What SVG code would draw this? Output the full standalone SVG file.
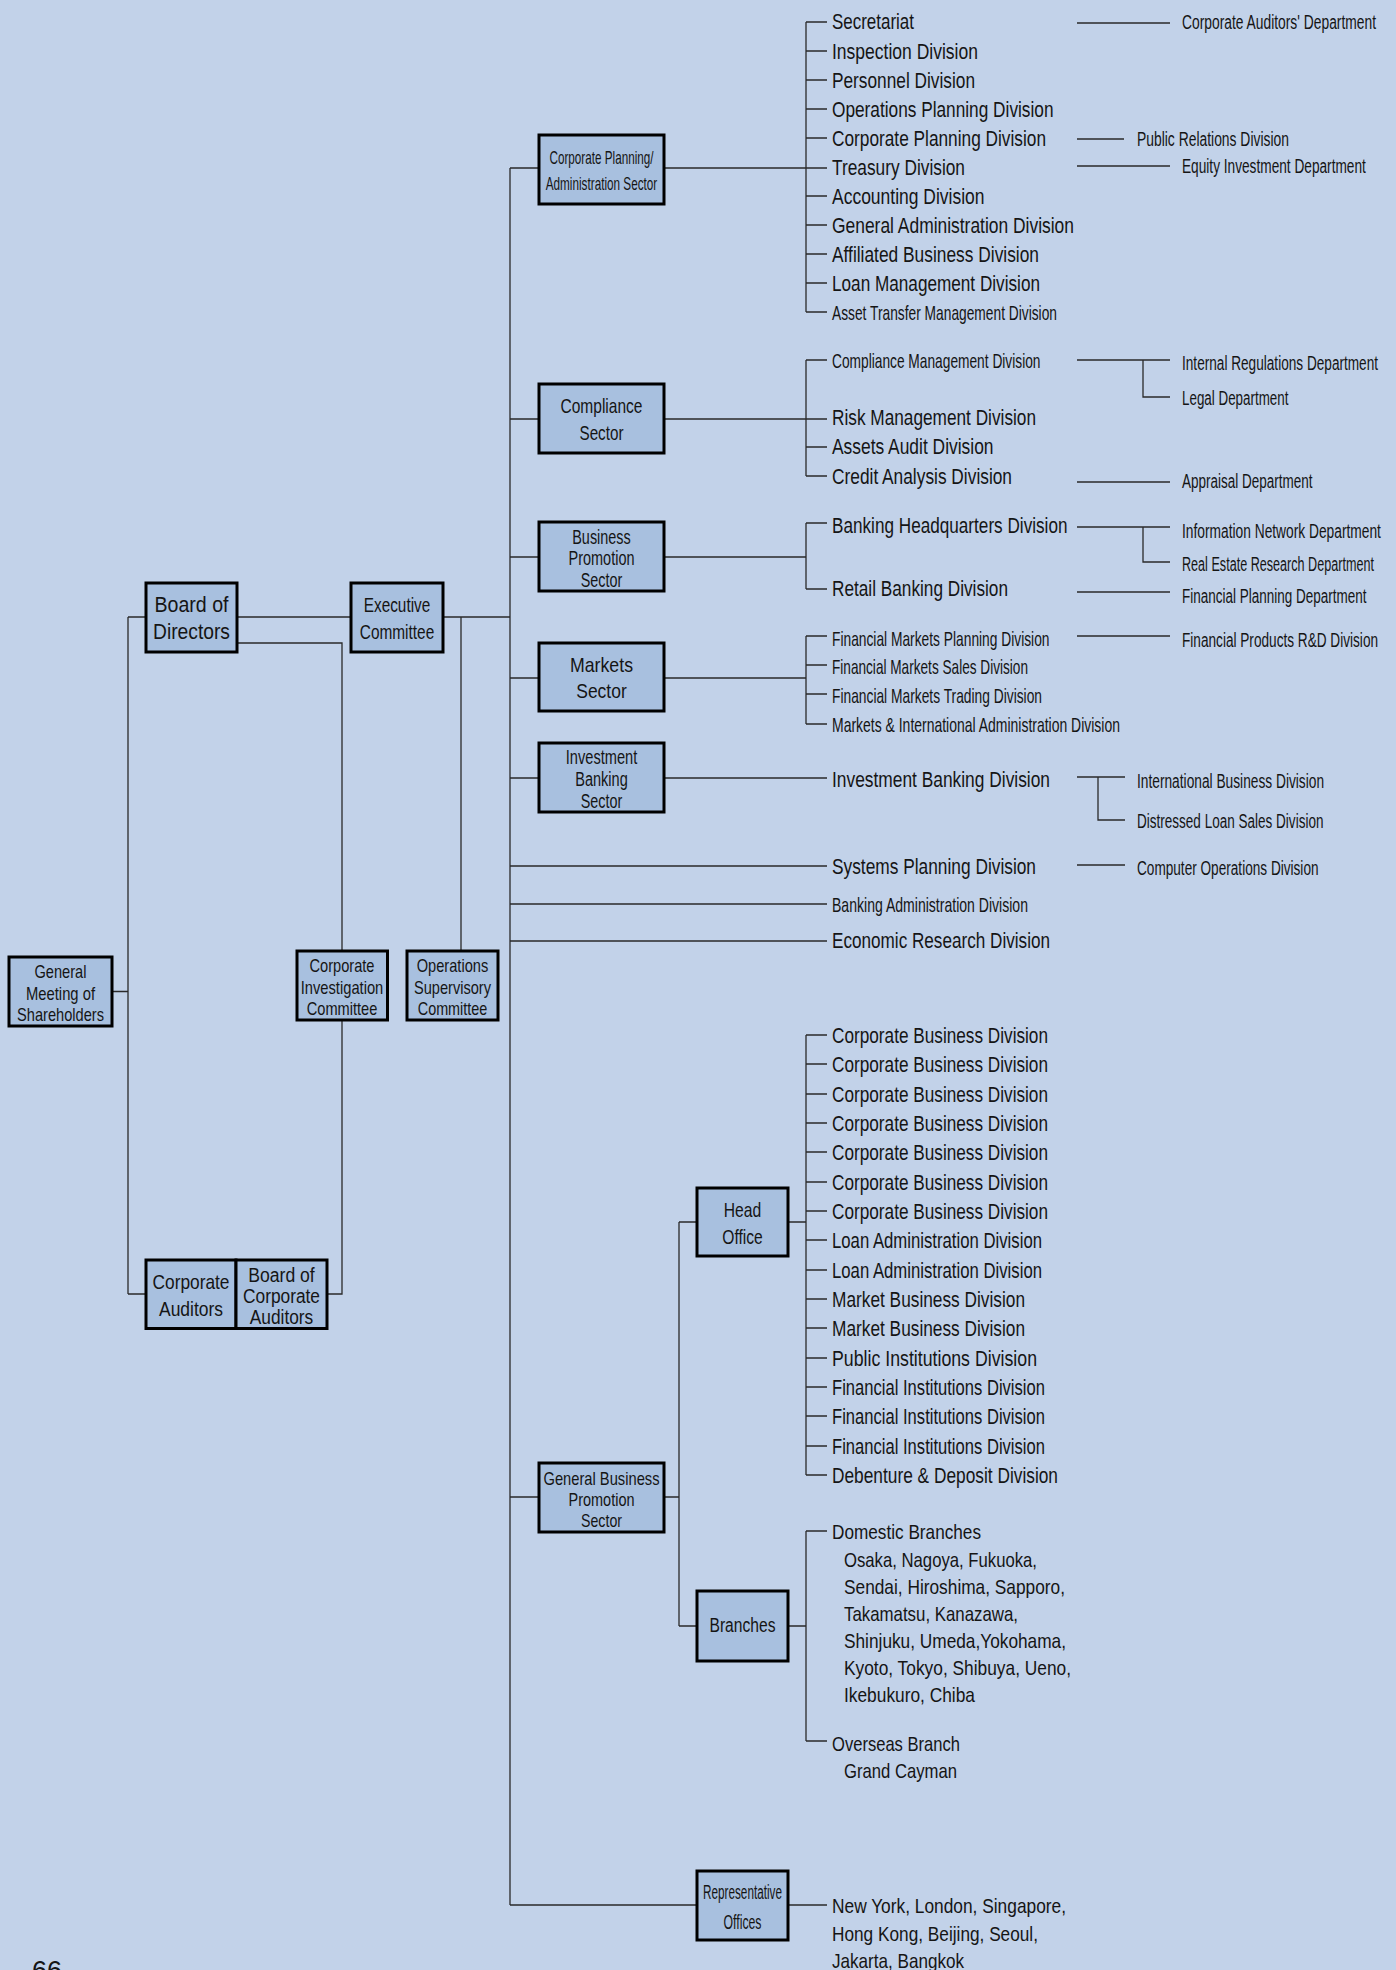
<svg xmlns="http://www.w3.org/2000/svg" width="1396" height="1970" viewBox="0 0 1396 1970">
<style>
.box{fill:#a8c0df;stroke:#000;stroke-width:3}
.ln{stroke:#2a2a2a;stroke-width:1.3;fill:none}
text{font-family:"Liberation Sans",Arial,sans-serif;fill:#151515;dominant-baseline:central}
.b{font-size:22px}
.s{font-size:21px}
.m{text-anchor:middle}
</style>
<rect width="1396" height="1970" fill="#c2d2e9"/>
<g id="connectors" class="ln">
<path d="M112 991.5H128M128 617V1294M128 617H146M128 1294H146"/>
<path d="M237 617H351M237 643H342V951M342 1020V1294H327"/>
<path d="M443 617H510M461 617V951"/>
<path d="M510 168V1905"/>
<path d="M510 168H539M510 419H539M510 557H539M510 678H539M510 778H539M510 1497H539"/>
<path d="M510 866H827M510 904H827M510 941H827M510 1905H697"/>
<path d="M664 168H827M664 419H827M664 557H806M664 678H806M664 778H827"/>
<path d="M806 22V312M806 22H827M806 51H827M806 80H827M806 109H827M806 138H827M806 196H827M806 225H827M806 254H827M806 283H827M806 312H827"/>
<path d="M806 360V476M806 360H827M806 447H827M806 476H827"/>
<path d="M806 523V589M806 523H827M806 589H827"/>
<path d="M806 636V724M806 636H827M806 665H827M806 694H827M806 724H827"/>
<path d="M664 1497H679M679 1222V1626M679 1222H697M679 1626H697"/>
<path d="M788 1222H806M806 1035V1475M806 1035H827M806 1064H827M806 1094H827M806 1123H827M806 1152H827M806 1182H827M806 1211H827M806 1240H827M806 1270H827M806 1299H827M806 1328H827M806 1358H827M806 1387H827M806 1416H827M806 1446H827M806 1475H827"/>
<path d="M788 1626H806M806 1531V1741M806 1531H827M806 1741H827"/>
<path d="M788 1905H827"/>
<path d="M1077 23H1170M1077 139H1124M1077 166H1170"/>
<path d="M1077 360H1170M1143 360V397H1170M1077 482H1170"/>
<path d="M1077 527H1170M1143 527V562H1170M1077 592H1170M1077 636H1170"/>
<path d="M1077 777H1125M1098 777V820H1125M1077 865H1125"/>
</g>
<g id="general-meeting"><rect class="box" x="9" y="957" width="103" height="69"/>
<text class="m" style="font-size:19px" x="60.5" y="971" textLength="52" lengthAdjust="spacingAndGlyphs">General</text>
<text class="m" style="font-size:19px" x="60.5" y="993" textLength="69" lengthAdjust="spacingAndGlyphs">Meeting of</text>
<text class="m" style="font-size:19px" x="60.5" y="1014" textLength="87" lengthAdjust="spacingAndGlyphs">Shareholders</text></g>
<g id="board-of-directors"><rect class="box" x="146" y="583" width="91" height="69"/>
<text class="m b" x="191.5" y="604.5" textLength="74" lengthAdjust="spacingAndGlyphs">Board of</text>
<text class="m b" x="191.5" y="631" textLength="77" lengthAdjust="spacingAndGlyphs">Directors</text></g>
<g id="executive-committee"><rect class="box" x="351" y="583" width="92" height="69"/>
<text class="m" style="font-size:21px" x="397" y="604.5" textLength="66.5" lengthAdjust="spacingAndGlyphs">Executive</text>
<text class="m" style="font-size:21px" x="397" y="631" textLength="74.5" lengthAdjust="spacingAndGlyphs">Committee</text></g>
<g id="corporate-investigation-committee"><rect class="box" x="297" y="951" width="90.5" height="69"/>
<text class="m" style="font-size:19px" x="342" y="965.5" textLength="65" lengthAdjust="spacingAndGlyphs">Corporate</text>
<text class="m" style="font-size:19px" x="342" y="987.5" textLength="82.5" lengthAdjust="spacingAndGlyphs">Investigation</text>
<text class="m" style="font-size:19px" x="342" y="1008" textLength="70.5" lengthAdjust="spacingAndGlyphs">Committee</text></g>
<g id="operations-supervisory-committee"><rect class="box" x="407" y="951" width="91" height="69"/>
<text class="m" style="font-size:19px" x="452.5" y="965.5" textLength="71.5" lengthAdjust="spacingAndGlyphs">Operations</text>
<text class="m" style="font-size:19px" x="452.5" y="987.5" textLength="77" lengthAdjust="spacingAndGlyphs">Supervisory</text>
<text class="m" style="font-size:19px" x="452.5" y="1008" textLength="69.5" lengthAdjust="spacingAndGlyphs">Committee</text></g>
<g id="corporate-auditors"><rect class="box" x="146" y="1260" width="90" height="68.5"/>
<text class="m" style="font-size:21px" x="191" y="1281.5" textLength="77" lengthAdjust="spacingAndGlyphs">Corporate</text>
<text class="m" style="font-size:21px" x="191" y="1308" textLength="64" lengthAdjust="spacingAndGlyphs">Auditors</text></g>
<g id="board-of-corporate-auditors"><rect class="box" x="236" y="1260" width="91" height="68.5"/>
<text class="m" style="font-size:20px" x="281.5" y="1274.5" textLength="66.5" lengthAdjust="spacingAndGlyphs">Board of</text>
<text class="m" style="font-size:20px" x="281.5" y="1296" textLength="77" lengthAdjust="spacingAndGlyphs">Corporate</text>
<text class="m" style="font-size:20px" x="281.5" y="1317" textLength="63.5" lengthAdjust="spacingAndGlyphs">Auditors</text></g>
<g id="corporate-planning-sector"><rect class="box" x="539" y="135" width="125" height="69"/>
<text class="m" style="font-size:19px" x="601.5" y="157" textLength="104" lengthAdjust="spacingAndGlyphs">Corporate Planning/</text>
<text class="m" style="font-size:19px" x="601.5" y="183" textLength="111.5" lengthAdjust="spacingAndGlyphs">Administration Sector</text></g>
<g id="compliance-sector"><rect class="box" x="539" y="384" width="125" height="69"/>
<text class="m" style="font-size:21px" x="601.5" y="405" textLength="82" lengthAdjust="spacingAndGlyphs">Compliance</text>
<text class="m" style="font-size:21px" x="601.5" y="432" textLength="44" lengthAdjust="spacingAndGlyphs">Sector</text></g>
<g id="business-promotion-sector"><rect class="box" x="539" y="522" width="125" height="69"/>
<text class="m" style="font-size:20px" x="601.5" y="536.5" textLength="58.5" lengthAdjust="spacingAndGlyphs">Business</text>
<text class="m" style="font-size:20px" x="601.5" y="558" textLength="66" lengthAdjust="spacingAndGlyphs">Promotion</text>
<text class="m" style="font-size:20px" x="601.5" y="579.5" textLength="41.5" lengthAdjust="spacingAndGlyphs">Sector</text></g>
<g id="markets-sector"><rect class="box" x="539" y="643" width="125" height="68"/>
<text class="m" style="font-size:21px" x="601.5" y="664" textLength="63" lengthAdjust="spacingAndGlyphs">Markets</text>
<text class="m" style="font-size:21px" x="601.5" y="690" textLength="50.5" lengthAdjust="spacingAndGlyphs">Sector</text></g>
<g id="investment-banking-sector"><rect class="box" x="539" y="743" width="125" height="69"/>
<text class="m" style="font-size:20px" x="601.5" y="757" textLength="71.5" lengthAdjust="spacingAndGlyphs">Investment</text>
<text class="m" style="font-size:20px" x="601.5" y="779" textLength="52.5" lengthAdjust="spacingAndGlyphs">Banking</text>
<text class="m" style="font-size:20px" x="601.5" y="800.5" textLength="41.5" lengthAdjust="spacingAndGlyphs">Sector</text></g>
<g id="general-business-promotion-sector"><rect class="box" x="539" y="1463" width="125" height="69"/>
<text class="m" style="font-size:19px" x="601.5" y="1478" textLength="116" lengthAdjust="spacingAndGlyphs">General Business</text>
<text class="m" style="font-size:19px" x="601.5" y="1499.5" textLength="66" lengthAdjust="spacingAndGlyphs">Promotion</text>
<text class="m" style="font-size:19px" x="601.5" y="1520" textLength="41" lengthAdjust="spacingAndGlyphs">Sector</text></g>
<g id="head-office"><rect class="box" x="697" y="1188" width="91" height="68"/>
<text class="m" style="font-size:21px" x="742.5" y="1209.5" textLength="37.5" lengthAdjust="spacingAndGlyphs">Head</text>
<text class="m" style="font-size:21px" x="742.5" y="1236" textLength="40.5" lengthAdjust="spacingAndGlyphs">Office</text></g>
<g id="branches"><rect class="box" x="697" y="1591" width="91" height="70"/>
<text class="m" style="font-size:20px" x="742.5" y="1625" textLength="66" lengthAdjust="spacingAndGlyphs">Branches</text></g>
<g id="representative-offices"><rect class="box" x="697" y="1871" width="91" height="69"/>
<text class="m" style="font-size:20px" x="742.5" y="1892" textLength="79" lengthAdjust="spacingAndGlyphs">Representative</text>
<text class="m" style="font-size:20px" x="742.5" y="1922" textLength="38" lengthAdjust="spacingAndGlyphs">Offices</text></g>
<g id="corporate-planning-divisions">
<text class="b" x="832" y="21" textLength="82" lengthAdjust="spacingAndGlyphs">Secretariat</text>
<text class="b" x="832" y="51" textLength="146" lengthAdjust="spacingAndGlyphs">Inspection Division</text>
<text class="b" x="832" y="80" textLength="143" lengthAdjust="spacingAndGlyphs">Personnel Division</text>
<text class="b" x="832" y="109" textLength="221.5" lengthAdjust="spacingAndGlyphs">Operations Planning Division</text>
<text class="b" x="832" y="138" textLength="214" lengthAdjust="spacingAndGlyphs">Corporate Planning Division</text>
<text class="b" x="832" y="167" textLength="133" lengthAdjust="spacingAndGlyphs">Treasury Division</text>
<text class="b" x="832" y="196" textLength="152.5" lengthAdjust="spacingAndGlyphs">Accounting Division</text>
<text class="b" x="832" y="225" textLength="242" lengthAdjust="spacingAndGlyphs">General Administration Division</text>
<text class="b" x="832" y="254" textLength="207" lengthAdjust="spacingAndGlyphs">Affiliated Business Division</text>
<text class="b" x="832" y="283" textLength="208" lengthAdjust="spacingAndGlyphs">Loan Management Division</text>
<text class="s" x="832" y="312" textLength="225" lengthAdjust="spacingAndGlyphs">Asset Transfer Management Division</text>
</g>
<g id="compliance-divisions">
<text class="s" x="832" y="360" textLength="208.5" lengthAdjust="spacingAndGlyphs">Compliance Management Division</text>
<text class="b" x="832" y="417.5" textLength="204" lengthAdjust="spacingAndGlyphs">Risk Management Division</text>
<text class="b" x="832" y="446.5" textLength="161.5" lengthAdjust="spacingAndGlyphs">Assets Audit Division</text>
<text class="b" x="832" y="476" textLength="180" lengthAdjust="spacingAndGlyphs">Credit Analysis Division</text>
</g>
<g id="business-promotion-divisions">
<text class="b" x="832" y="525" textLength="235.5" lengthAdjust="spacingAndGlyphs">Banking Headquarters Division</text>
<text class="b" x="832" y="588" textLength="176" lengthAdjust="spacingAndGlyphs">Retail Banking Division</text>
</g>
<g id="markets-divisions">
<text class="s" x="832" y="638" textLength="217.5" lengthAdjust="spacingAndGlyphs">Financial Markets Planning Division</text>
<text class="s" x="832" y="666.5" textLength="196" lengthAdjust="spacingAndGlyphs">Financial Markets Sales Division</text>
<text class="s" x="832" y="695.5" textLength="210" lengthAdjust="spacingAndGlyphs">Financial Markets Trading Division</text>
<text class="s" x="832" y="724.5" textLength="288" lengthAdjust="spacingAndGlyphs">Markets &amp; International Administration Division</text>
</g>
<g id="investment-banking-divisions">
<text class="b" x="832" y="779" textLength="218" lengthAdjust="spacingAndGlyphs">Investment Banking Division</text>
</g>
<g id="direct-divisions">
<text class="b" x="832" y="866" textLength="204" lengthAdjust="spacingAndGlyphs">Systems Planning Division</text>
<text class="s" x="832" y="904" textLength="196" lengthAdjust="spacingAndGlyphs">Banking Administration Division</text>
<text class="b" x="832" y="940.5" textLength="218" lengthAdjust="spacingAndGlyphs">Economic Research Division</text>
</g>
<g id="departments" class="s">
<text transform="translate(1182 22) scale(0.58 1)" x="0" y="0" textLength="334.5" lengthAdjust="spacingAndGlyphs">Corporate Auditors' Department</text>
<text transform="translate(1137 139) scale(0.58 1)" x="0" y="0" textLength="262" lengthAdjust="spacingAndGlyphs">Public Relations Division</text>
<text transform="translate(1182 166) scale(0.58 1)" x="0" y="0" textLength="317" lengthAdjust="spacingAndGlyphs">Equity Investment Department</text>
<text transform="translate(1182 363) scale(0.58 1)" x="0" y="0" textLength="338" lengthAdjust="spacingAndGlyphs">Internal Regulations Department</text>
<text transform="translate(1182 398) scale(0.58 1)" x="0" y="0" textLength="183.5" lengthAdjust="spacingAndGlyphs">Legal Department</text>
<text transform="translate(1182 481) scale(0.58 1)" x="0" y="0" textLength="225" lengthAdjust="spacingAndGlyphs">Appraisal Department</text>
<text transform="translate(1182 531) scale(0.58 1)" x="0" y="0" textLength="343" lengthAdjust="spacingAndGlyphs">Information Network Department</text>
<text transform="translate(1182 564) scale(0.58 1)" x="0" y="0" textLength="331" lengthAdjust="spacingAndGlyphs">Real Estate Research Department</text>
<text transform="translate(1182 596) scale(0.58 1)" x="0" y="0" textLength="318" lengthAdjust="spacingAndGlyphs">Financial Planning Department</text>
<text transform="translate(1182 640) scale(0.58 1)" x="0" y="0" textLength="338" lengthAdjust="spacingAndGlyphs">Financial Products R&amp;D Division</text>
<text transform="translate(1137 781) scale(0.58 1)" x="0" y="0" textLength="322.5" lengthAdjust="spacingAndGlyphs">International Business Division</text>
<text transform="translate(1137 821) scale(0.58 1)" x="0" y="0" textLength="321.5" lengthAdjust="spacingAndGlyphs">Distressed Loan Sales Division</text>
<text transform="translate(1137 868) scale(0.58 1)" x="0" y="0" textLength="313" lengthAdjust="spacingAndGlyphs">Computer Operations Division</text>
</g>
<g id="head-office-divisions">
<text class="b" x="832" y="1035" textLength="216" lengthAdjust="spacingAndGlyphs">Corporate Business Division</text>
<text class="b" x="832" y="1064" textLength="216" lengthAdjust="spacingAndGlyphs">Corporate Business Division</text>
<text class="b" x="832" y="1094" textLength="216" lengthAdjust="spacingAndGlyphs">Corporate Business Division</text>
<text class="b" x="832" y="1123" textLength="216" lengthAdjust="spacingAndGlyphs">Corporate Business Division</text>
<text class="b" x="832" y="1152" textLength="216" lengthAdjust="spacingAndGlyphs">Corporate Business Division</text>
<text class="b" x="832" y="1182" textLength="216" lengthAdjust="spacingAndGlyphs">Corporate Business Division</text>
<text class="b" x="832" y="1211" textLength="216" lengthAdjust="spacingAndGlyphs">Corporate Business Division</text>
<text class="b" x="832" y="1240" textLength="210" lengthAdjust="spacingAndGlyphs">Loan Administration Division</text>
<text class="b" x="832" y="1270" textLength="210" lengthAdjust="spacingAndGlyphs">Loan Administration Division</text>
<text class="b" x="832" y="1299" textLength="193" lengthAdjust="spacingAndGlyphs">Market Business Division</text>
<text class="b" x="832" y="1328" textLength="193" lengthAdjust="spacingAndGlyphs">Market Business Division</text>
<text class="b" x="832" y="1358" textLength="205" lengthAdjust="spacingAndGlyphs">Public Institutions Division</text>
<text class="b" x="832" y="1387" textLength="213" lengthAdjust="spacingAndGlyphs">Financial Institutions Division</text>
<text class="b" x="832" y="1416" textLength="213" lengthAdjust="spacingAndGlyphs">Financial Institutions Division</text>
<text class="b" x="832" y="1446" textLength="213" lengthAdjust="spacingAndGlyphs">Financial Institutions Division</text>
<text class="b" x="832" y="1475" textLength="226" lengthAdjust="spacingAndGlyphs">Debenture &amp; Deposit Division</text>
</g>
<g id="branch-list" style="font-size:21px">
<text x="832" y="1531" textLength="149" lengthAdjust="spacingAndGlyphs">Domestic Branches</text>
<text x="844" y="1559" textLength="193" lengthAdjust="spacingAndGlyphs">Osaka, Nagoya, Fukuoka,</text>
<text x="844" y="1586" textLength="221" lengthAdjust="spacingAndGlyphs">Sendai, Hiroshima, Sapporo,</text>
<text x="844" y="1613" textLength="174" lengthAdjust="spacingAndGlyphs">Takamatsu, Kanazawa,</text>
<text x="844" y="1640" textLength="222" lengthAdjust="spacingAndGlyphs">Shinjuku, Umeda,Yokohama,</text>
<text x="844" y="1667" textLength="227" lengthAdjust="spacingAndGlyphs">Kyoto, Tokyo, Shibuya, Ueno,</text>
<text x="844" y="1694" textLength="131" lengthAdjust="spacingAndGlyphs">Ikebukuro, Chiba</text>
<text x="832" y="1743" textLength="128" lengthAdjust="spacingAndGlyphs">Overseas Branch</text>
<text x="844" y="1770" textLength="113" lengthAdjust="spacingAndGlyphs">Grand Cayman</text>
</g>
<g id="representative-list" style="font-size:21px">
<text x="832" y="1905" textLength="234" lengthAdjust="spacingAndGlyphs">New York, London, Singapore,</text>
<text x="832" y="1933" textLength="206" lengthAdjust="spacingAndGlyphs">Hong Kong, Beijing, Seoul,</text>
<text x="832" y="1960" textLength="132" lengthAdjust="spacingAndGlyphs">Jakarta, Bangkok</text>
</g>
<text style="font-size:28px;dominant-baseline:auto" x="32" y="1980" textLength="30" lengthAdjust="spacingAndGlyphs">66</text>
</svg>
